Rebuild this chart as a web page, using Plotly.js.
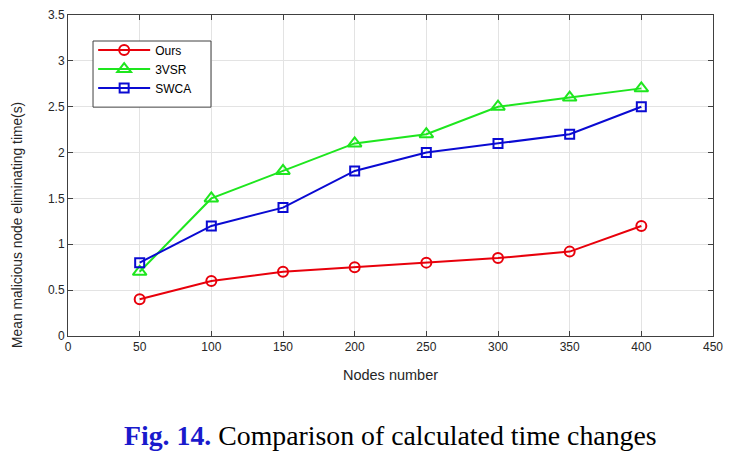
<!DOCTYPE html>
<html>
<head>
<meta charset="utf-8">
<script src="https://cdn.plot.ly/plotly-3.0.1.min.js"></script>
<style>html,body{margin:0;padding:0;background:#fff;}#chart{width:738px;height:452px;}</style>
</head>
<body>
<div id="chart"></div>
<script>
const nodes = [50, 100, 150, 200, 250, 300, 350, 400];
const ours = [0.4, 0.6, 0.7, 0.75, 0.8, 0.85, 0.92, 1.2];
const vsr3 = [0.7, 1.5, 1.8, 2.1, 2.2, 2.5, 2.6, 2.7];
const swca = [0.8, 1.2, 1.4, 1.8, 2.0, 2.1, 2.2, 2.5];
const xTicks = [0, 50, 100, 150, 200, 250, 300, 350, 400, 450];
const yTicks = [0, 0.5, 1, 1.5, 2, 2.5, 3, 3.5];
const yTickText = ['0', '0.5', '1', '1.5', '2', '2.5', '3', '3.5'];

const traces = [
  {x: nodes, y: ours, name: 'Ours', mode: 'lines+markers',
   line: {color: '#e8000b', width: 2},
   marker: {symbol: 'circle-open', size: 10, color: '#e8000b', line: {width: 2, color: '#e8000b'}}},
  {x: nodes, y: vsr3, name: '3VSR', mode: 'lines+markers',
   line: {color: '#1ee61e', width: 2},
   marker: {symbol: 'triangle-up-open', size: 12, color: '#1ee61e', line: {width: 2, color: '#1ee61e'}}},
  {x: nodes, y: swca, name: 'SWCA', mode: 'lines+markers',
   line: {color: '#0a0ad2', width: 2},
   marker: {symbol: 'square-open', size: 9, color: '#0a0ad2', line: {width: 2, color: '#0a0ad2'}}}
];

const axisCommon = {
  showline: true, linecolor: '#404040', linewidth: 1, mirror: 'ticks',
  ticks: 'inside', ticklen: 5, tickcolor: '#404040', tickwidth: 1,
  showgrid: true, gridcolor: '#e3e3e3', gridwidth: 1, zeroline: false,
  tickfont: {family: 'Liberation Sans, Arial, sans-serif', size: 12, color: '#262626'}
};

const layout = {
  width: 738, height: 452,
  margin: {l: 68, r: 25, t: 15, b: 116},
  paper_bgcolor: '#fff', plot_bgcolor: '#fff',
  showlegend: true,
  legend: {x: 0.039, y: 0.936, xanchor: 'left', yanchor: 'top',
    bgcolor: 'rgba(0,0,0,0)', borderwidth: 0,
    font: {family: 'Liberation Sans, Arial, sans-serif', size: 12, color: '#000'},
    tracegroupgap: 1, itemwidth: 52},
  shapes: [{
    type: 'rect', xref: 'paper', yref: 'paper', layer: 'above',
    x0: 0.0388, x1: 0.2217, y0: 0.713, y1: 0.919,
    fillcolor: '#fff', line: {color: '#404040', width: 1}
  }],
  xaxis: Object.assign({}, axisCommon, {
    range: [0, 450], tickvals: xTicks, ticktext: xTicks.map(String),
    title: {text: 'Nodes number', font: {family: 'Liberation Sans, Arial, sans-serif', size: 14.5, color: '#262626'}, standoff: 16}
  }),
  yaxis: Object.assign({}, axisCommon, {
    range: [0, 3.5], tickvals: yTicks, ticktext: yTickText
  }),
  annotations: [{
    xref: 'paper', yref: 'paper', x: 0.5, y: -0.255, xanchor: 'center', yanchor: 'top', showarrow: false,
    text: '<span style="color:#1a1acc"><b>Fig. 14.</b></span> Comparison of calculated time changes',
    font: {family: 'Liberation Serif, Times New Roman, serif', size: 27.8, color: '#000'}
  }, {
    xref: 'paper', yref: 'paper', x: -0.078, y: 0.345, xanchor: 'center', yanchor: 'middle', showarrow: false,
    textangle: -90,
    text: 'Mean malicious node eliminating time(s)',
    font: {family: 'Liberation Sans, Arial, sans-serif', size: 13.8, color: '#262626'}
  }]
};

Plotly.newPlot('chart', traces, layout, {displayModeBar: false, staticPlot: true});
</script>
</body>
</html>
